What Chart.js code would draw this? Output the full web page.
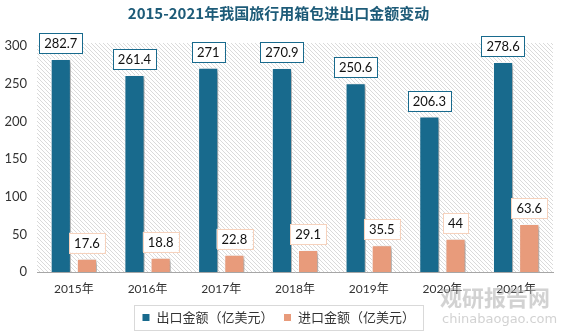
<!DOCTYPE html>
<html>
<head>
<meta charset="utf-8">
<script src="https://cdn.jsdelivr.net/npm/chart.js@4"></script>
<style>
  html, body { margin: 0; padding: 0; background: #fff; }
  #wrap { width: 564px; height: 336px; position: relative; }
</style>
</head>
<body>
<div id="wrap"><canvas id="c" width="564" height="336"></canvas></div>
<script>
const years = ['2015年', '2016年', '2017年', '2018年', '2019年', '2020年', '2021年']
const exportValues = [282.7, 261.4, 271, 270.9, 250.6, 206.3, 278.6]
const importValues = [17.6, 18.8, 22.8, 29.1, 35.5, 44, 63.6]
const yTicks = [0, 50, 100, 150, 200, 250, 300]

const BLUE = '#186a8d'
const SALMON = '#e89b7b'
const FONT = 'Lato, "Noto Sans CJK SC", sans-serif'

// diagonal hatch for the plot background
function makeHatch() {
  const p = document.createElement('canvas')
  p.width = 4; p.height = 4
  const g = p.getContext('2d')
  g.strokeStyle = '#dadada'
  g.lineWidth = 1
  g.beginPath()
  g.moveTo(-1, -1); g.lineTo(5, 5)
  g.moveTo(-1, 3); g.lineTo(1, 5)
  g.moveTo(3, -1); g.lineTo(5, 1)
  g.stroke()
  return g.createPattern(p, 'repeat')
}

const hatchBg = {
  id: 'hatchBg',
  beforeDatasetsDraw(chart) {
    const { ctx, chartArea: a } = chart
    ctx.save()
    ctx.fillStyle = makeHatch()
    ctx.fillRect(a.left, a.top - 3, a.right - a.left, a.bottom - a.top + 3)
    ctx.restore()
    // bars get a soft drop shadow
    ctx.save()
    ctx.shadowColor = 'rgba(0,0,0,0.35)'
    ctx.shadowBlur = 4
    ctx.shadowOffsetX = 3
    ctx.shadowOffsetY = 2
  },
  afterDatasetsDraw(chart) {
    chart.ctx.restore()
  }
}

const boxLabels = {
  id: 'boxLabels',
  afterDatasetsDraw(chart) {
    const ctx = chart.ctx
    ctx.save()
    ctx.font = '13px ' + FONT
    ctx.textAlign = 'center'
    ctx.textBaseline = 'middle'
    chart.data.datasets.forEach((ds, i) => {
      const meta = chart.getDatasetMeta(i)
      meta.data.forEach((bar, j) => {
        const txt = String(ds.data[j])
        const w = ctx.measureText(txt).width + 10
        const h = 20
        const x = bar.x - w / 2
        const y = bar.y - 6 - h
        ctx.fillStyle = '#fff'
        ctx.fillRect(x, y, w, h)
        ctx.strokeStyle = i === 0 ? BLUE : '#f6d2bd'
        ctx.lineWidth = 1
        ctx.strokeRect(Math.round(x) + 0.5, Math.round(y) + 0.5, Math.round(w), h)
        ctx.fillStyle = '#111'
        ctx.fillText(txt, bar.x, y + h / 2 + 1)
      })
    })
    ctx.restore()
  }
}

const legendFrame = {
  id: 'legendFrame',
  afterDraw(chart) {
    const boxes = chart.legend.legendHitBoxes
    if (!boxes || !boxes.length) return
    const ctx = chart.ctx
    const l = Math.min(...boxes.map(b => b.left)) - 8
    const r = Math.max(...boxes.map(b => b.left + b.width)) + 8
    const t = boxes[0].top - 6
    const b = boxes[0].top + boxes[0].height + 6
    ctx.save()
    ctx.strokeStyle = '#d9d9d9'
    ctx.lineWidth = 1
    ctx.strokeRect(Math.round(l) + 0.5, Math.round(t) + 0.5, Math.round(r - l), Math.round(b - t))
    // watermark
    ctx.fillStyle = 'rgba(165,165,165,0.5)'
    ctx.font = 'bold 22px "Noto Sans CJK SC", sans-serif'
    ctx.textAlign = 'left'
    ctx.textBaseline = 'middle'
    ctx.fillText('观研报告网', 440, 298)
    ctx.font = '13px "DejaVu Sans", sans-serif'
    ctx.fillText('chinabaogao.com', 442, 320)
    ctx.restore()
  }
}

new Chart(document.getElementById('c'), {
  type: 'bar',
  data: {
    labels: years,
    datasets: [
      {
        label: '出口金额（亿美元）',
        data: exportValues,
        backgroundColor: BLUE,
        borderColor: '#ffffff',
        borderWidth: 1,
        barPercentage: 0.77,
        categoryPercentage: 0.71
      },
      {
        label: '进口金额（亿美元）',
        data: importValues,
        backgroundColor: SALMON,
        borderColor: '#ffffff',
        borderWidth: 1,
        barPercentage: 0.77,
        categoryPercentage: 0.71
      }
    ]
  },
  options: {
    responsive: false,
    animation: false,
    devicePixelRatio: 1,
    layout: { padding: { left: 4, right: 11, top: 4, bottom: 2 } },
    plugins: {
      title: {
        display: true,
        text: '2015-2021年我国旅行用箱包进出口金额变动',
        color: '#1d5b78',
        font: { family: '"Noto Sans CJK SC", sans-serif', size: 15, weight: 'bold' },
        padding: { top: 0, bottom: 24 }
      },
      legend: {
        position: 'bottom',
        labels: {
          boxWidth: 8,
          boxHeight: 8,
          padding: 10,
          color: '#333',
          font: { family: '"Noto Sans CJK SC", sans-serif', size: 13 }
        }
      },
      tooltip: { enabled: false }
    },
    scales: {
      x: {
        grid: { display: false, drawTicks: false },
        border: { color: '#a6a6a6' },
        ticks: { color: '#333', font: { family: FONT, size: 12 }, padding: 10 },
        afterFit: (s) => { s.height = 29 }
      },
      y: {
        min: 0,
        max: 300,
        afterBuildTicks: (s) => { s.ticks = yTicks.map(v => ({ value: v })) },
        grid: { display: false, drawTicks: false },
        border: { display: false },
        ticks: { color: '#333', font: { family: FONT, size: 13 }, padding: 10 },
        afterFit: (s) => { s.width = 33 }
      }
    }
  },
  plugins: [hatchBg, boxLabels, legendFrame]
})
</script>
</body>
</html>
